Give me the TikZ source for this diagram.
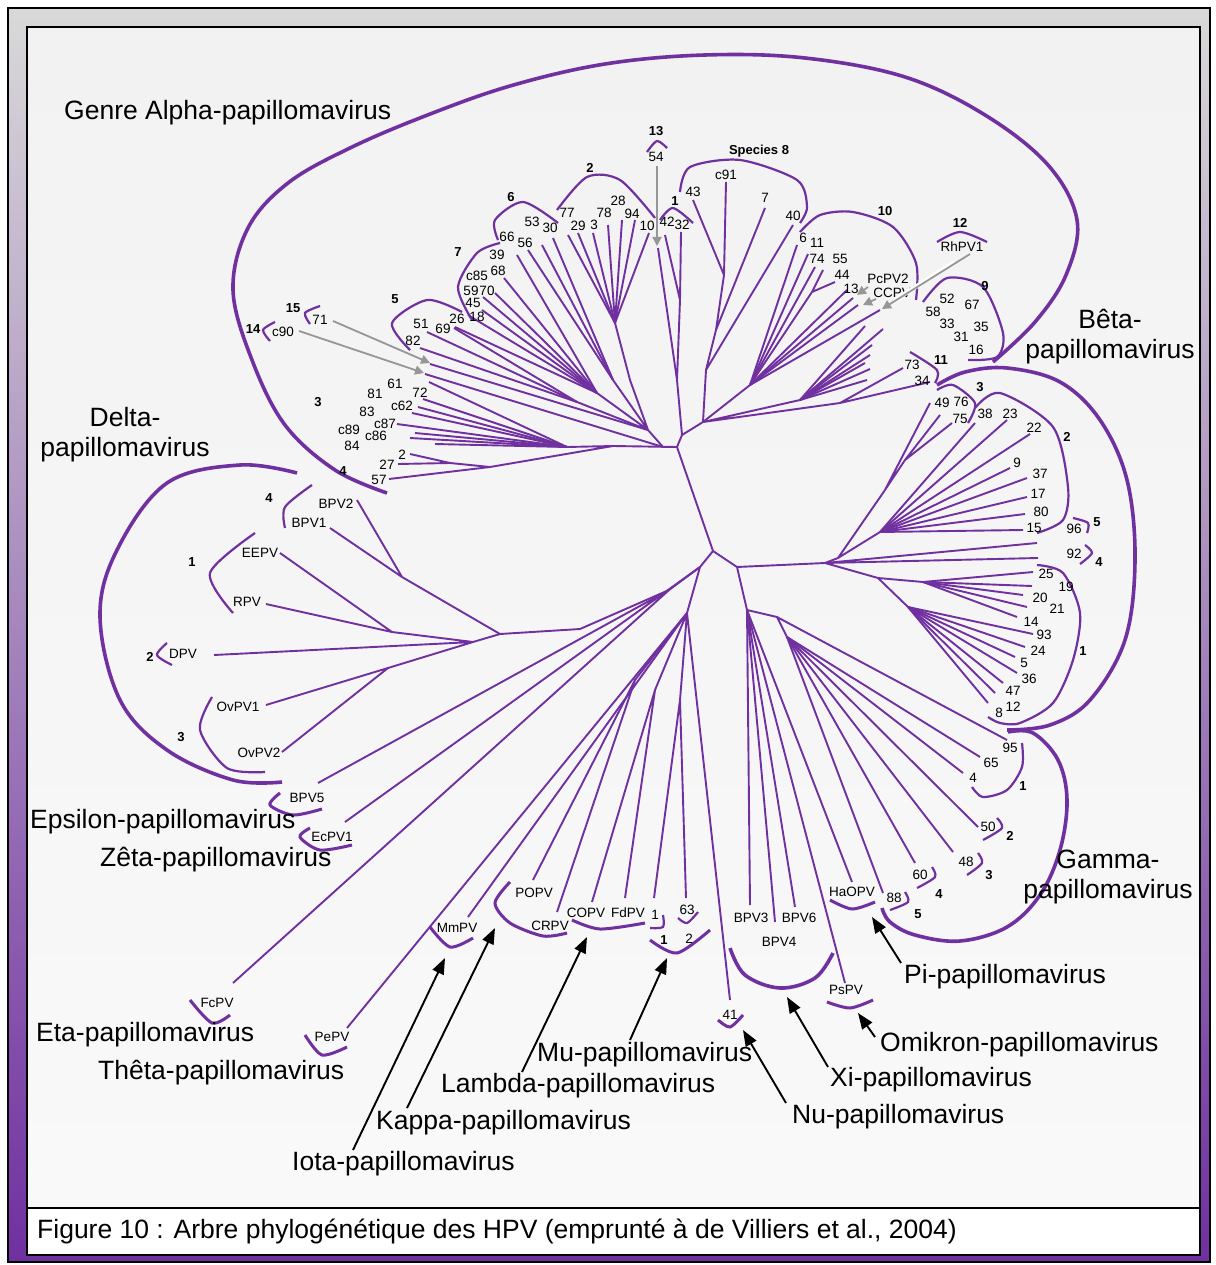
\documentclass[tikz,border=0pt]{standalone}
\usepackage{fontspec}
\setmainfont{Liberation Sans}
\usetikzlibrary{arrows.meta}
\definecolor{pv}{HTML}{7030A0}
\definecolor{gtop}{HTML}{D9D9D9}
\definecolor{gmid}{HTML}{B4A5C8}
\definecolor{panel}{HTML}{F2F2F2}
\definecolor{panelb}{HTML}{F9F9F9}
\definecolor{garrow}{HTML}{969696}
\begin{document}
\begin{tikzpicture}[x=1pt,y=-1pt,
  br/.style={pv,line width=1.9pt},
  brc/.style={pv,line width=2.2pt},
  brb/.style={pv,line width=3pt},
  bigbrace/.style={pv,line width=3.6pt},
  lab/.style={font=\fontsize{13.5}{15}\selectfont,inner sep=0pt},
  sp/.style={font=\fontsize{13}{15}\selectfont\bfseries,inner sep=0pt},
  big/.style={font=\fontsize{26.5}{30}\selectfont,inner sep=0pt,align=center},
  garr/.style={garrow,line width=1.8pt,-{Triangle[length=9pt,width=9pt]}},
  barr/.style={black,line width=1.9pt,-{Triangle[length=16pt,width=12pt]}}]
\useasboundingbox (0,0) rectangle (1215,1265);
% frame
\fill[white] (0,0) rectangle (1215,1265);
\shade[top color=gtop,middle color=gmid,bottom color=pv] (8,8) rectangle (1210,1262);
\draw[line width=1.5pt] (8,8) rectangle (1210,1262);
\shade[top color=panel,bottom color=panelb] (27,27) rectangle (1200,1208);
\draw[line width=2pt] (27,27) rectangle (1200,1208);
\filldraw[fill=white,line width=2pt] (27,1208) rectangle (1200,1255);
\node[big,anchor=west] (cap) at (37,1231) {Figure 10 : Arbre phylogénétique des HPV (emprunté à de Villiers et al., 2004)};

% ---------- internal coordinates ----------
\coordinate (A) at (677,447); \coordinate (B) at (713,551);
\coordinate (C) at (737,567); \coordinate (D) at (700,567);
\coordinate (D2) at (669,590); \coordinate (D3) at (687,613);
\coordinate (AL1) at (613,446); \coordinate (H3) at (567,447);
\coordinate (H4) at (490,467); \coordinate (H4b) at (450,463);
\coordinate (AL2) at (663,447); \coordinate (AL3) at (648,430);
\coordinate (S5) at (577,402); \coordinate (S7) at (597,393);
\coordinate (S6) at (613,380); \coordinate (S2) at (615,323);
\coordinate (S2b) at (630,380); \coordinate (AL5) at (682,435);
\coordinate (S1) at (677,380); \coordinate (S1b) at (680,300);
\coordinate (AL6) at (703,422); \coordinate (S8a) at (724,275);
\coordinate (S8c) at (716,330); \coordinate (S8d) at (706,370);
\coordinate (S10) at (750,385); \coordinate (S10a) at (812,292);
\coordinate (S9) at (800,400); \coordinate (S11) at (840,403);
\coordinate (BH) at (825,563); \coordinate (B23) at (838,558);
\coordinate (B3n) at (885,490); \coordinate (B3) at (905,460);
\coordinate (B2) at (880,532); \coordinate (B1) at (878,578);
\coordinate (B1a) at (923,582); \coordinate (B1b) at (908,607);
\coordinate (G0) at (747,610); \coordinate (G1) at (777,617);
\coordinate (G2) at (787,637);
\coordinate (E3) at (500,634); \coordinate (E4) at (580,629);
\coordinate (BPn) at (402,577); \coordinate (E1) at (392,632);
\coordinate (E2) at (473,642); \coordinate (OVn) at (388,668);
\coordinate (K) at (635,680); \coordinate (L) at (655,690); \coordinate (M) at (680,700);

% ---------- tree ----------
\draw[br] (A)--(B) (B)--(C) (B)--(D) (D)--(D2) (D)--(D3);
% alpha
\draw[br] (A)--(AL1)--(H3) (AL1)--(H4)--(H4b);
\foreach \p in {(429,382),(423,399),(418,407),(412,413),(397,424),(415,433),(410,438),(435,444)} \draw[br] (H3)--\p;
\draw[br] (H4b)--(410,454) (H4b)--(398,464) (H4)--(389,479);
\draw[br] (A)--(AL2)--(AL3) (AL2)--(425,374) (AL3)--(430,364);
\draw[br] (AL3)--(S5) (AL3)--(S7) (AL3)--(S6) (AL3)--(S2b)--(S2);
\foreach \p in {(427,332),(420,348),(454,328)} \draw[br] (S5)--\p;
\foreach \p in {(517,255),(504,278),(495,293),(483,297),(482,310),(468,315),(455,327)} \draw[br] (S7)--\p;
\foreach \p in {(528,250),(542,245),(553,238)} \draw[br] (S6)--\p;
\foreach \p in {(568,235),(578,233),(593,233),(608,225),(622,220),(635,220),(649,233)} \draw[br] (S2)--\p;
\draw[br] (A)--(AL5)--(S1)--(658,248) (S1)--(S1b)--(665,235) (S1b)--(681,232);
\draw[br] (AL5)--(AL6)--(S8d)--(S8c)--(S8a)--(693,200) (S8a)--(726,182) (S8c)--(765,208) (S8d)--(793,225);
\draw[br] (AL6)--(S10);
\foreach \p in {(797,245),(808,254),(815,267),(847,290),(853,298),(858,305),(880,310)} \draw[br] (S10)--\p;
\draw[br] (S10)--(S10a)--(823,270) (S10a)--(835,282);
\draw[br] (AL6)--(S9) (AL6)--(S11);
\foreach \p in {(865,326),(883,329),(872,345),(870,355),(865,363),(870,369),(867,380)} \draw[br] (S9)--\p;
\draw[br] (S11)--(903,368) (S11)--(930,382);
% beta
\draw[br] (C)--(BH)--(B23)--(B3n)--(930,403) (B3n)--(B3)--(940,415) (B3)--(952,423) (B23)--(B2);
\foreach \p in {(975,423),(1007,420),(1030,434),(1010,468),(1027,478),(1027,497),(1025,514),(1023,530)} \draw[br] (B2)--\p;
\draw[br] (BH)--(1037,543) (BH)--(1038,558) (BH)--(B1)--(B1a) (B1)--(B1b);
\foreach \p in {(1033,572),(1032,586),(1023,595),(1027,607),(1017,617)} \draw[br] (B1a)--\p;
\foreach \p in {(1033,634),(1025,647),(1015,657),(1017,673),(1003,683),(995,693),(988,703)} \draw[br] (B1b)--\p;
% gamma, pi, omikron, xi
\draw[br] (C)--(G0)--(G1)--(G2) (G1)--(1007,740);
\foreach \p in {(980,757),(963,773),(978,827),(953,852),(915,863),(883,893)} \draw[br] (G2)--\p;
\foreach \p in {(852,882),(845,983),(750,905),(775,922),(795,907)} \draw[br] (G0)--\p;
% delta and lower
\draw[br] (D2)--(E4)--(E3)--(BPn)--(357,500) (BPn)--(330,528);
\draw[br] (E3)--(E2)--(E1)--(280,553) (E1)--(266,604) (E2)--(214,655) (E2)--(OVn)--(266,705) (OVn)--(282,752);
\draw[br] (D2)--(318,783) (D)--(345,822) (D2)--(233,983) (D3)--(347,1028) (D3)--(468,917);
\draw[br] (D3)--(K)--(533,880) (K)--(557,912) (D3)--(L)--(592,902) (L)--(625,898) (D3)--(M)--(654,898) (M)--(686,898) (D3)--(730,1000);

% ---------- big braces ----------
\draw[bigbrace] plot[smooth,tension=0.6] coordinates {(387,493) (335,470) (285,425) (252,360) (233,290) (248,228) (288,183) (350,148) (425,116) (510,86) (605,64) (705,55) (805,58) (905,77) (985,115) (1048,165) (1077,220) (1066,275) (1035,322) (993,362)};
\draw[bigbrace] plot[smooth,tension=0.6] coordinates {(937,385) (965,372) (1007,368) (1060,382) (1100,420) (1127,480) (1135,560) (1125,640) (1090,700) (1050,725) (1007,730)};
\draw[bigbrace] plot[smooth,tension=0.6] coordinates {(1008,732) (1033,733) (1058,760) (1067,800) (1060,850) (1040,895) (1007,927) (960,941) (915,935) (890,922) (882,908)};
\draw[bigbrace] plot[smooth,tension=0.6] coordinates {(297,473) (240,465) (167,483) (117,550) (100,617) (120,700) (167,750) (233,780) (282,782)};
\draw[bigbrace] plot[smooth,tension=0.6] coordinates {(730,948) (745,975) (780,988) (815,978) (833,953)};
% ---------- small braces ----------
\draw[brc] plot[smooth] coordinates {(320,306) (305,313) (310,324)};
\draw[brc] plot[smooth] coordinates {(275,322) (263,330) (270,341)};
\draw[brc] plot[smooth] coordinates {(410,350) (392,323) (427,300) (462,312)};
\draw[brc] plot[smooth] coordinates {(472,320) (458,287) (477,253) (500,243)};
\draw[brc] plot[smooth] coordinates {(498,240) (495,220) (523,202) (558,223)};
\draw[brc] plot[smooth] coordinates {(557,210) (587,177) (620,180) (655,218)};
\draw[brc] plot[smooth] coordinates {(647,152) (657,141) (667,148)};
\draw[brc] plot[smooth] coordinates {(660,220) (673,208) (693,223)};
\draw[brc] plot[smooth] coordinates {(680,192) (690,167) (740,160) (797,180) (807,207) (800,223)};
\draw[brc] plot[smooth] coordinates {(800,232) (820,215) (853,212) (893,227) (916,263) (916,300)};
\draw[brc] plot[smooth] coordinates {(937,242) (960,232) (987,242)};
\draw[brc] plot[smooth] coordinates {(923,302) (947,278) (983,287) (1003,333) (997,357) (968,360)};
\draw[brc] plot[smooth] coordinates {(910,352) (937,370) (935,383)};
\draw[brc] plot[smooth] coordinates {(937,390) (953,385) (975,403) (968,423)};
\draw[brc] plot[smooth] coordinates {(975,408) (1000,393) (1053,427) (1068,487) (1063,520) (1037,533)};
\draw[brc] plot[smooth] coordinates {(1073,518) (1088,523) (1087,533)};
\draw[brc] plot[smooth] coordinates {(1085,545) (1092,553) (1080,564)};
\draw[brc] plot[smooth] coordinates {(1037,565) (1063,573) (1080,613) (1073,660) (1053,703) (1020,723) (1000,723) (988,717)};
\draw[brc] plot[smooth] coordinates {(1022,743) (1022,767) (1007,790) (983,797) (972,787)};
\draw[brc] plot[smooth] coordinates {(997,818) (1002,828) (983,840)};
\draw[brc] plot[smooth] coordinates {(978,853) (982,863) (967,875)};
\draw[brc] plot[smooth] coordinates {(932,867) (935,877) (917,888)};
\draw[brc] plot[smooth] coordinates {(905,892) (908,902) (890,910)};
\draw[brb] plot[smooth] coordinates {(830,900) (852,909) (875,902)};
\draw[brb] plot[smooth] coordinates {(430,927) (450,947) (473,938)};
\draw[brb] plot[smooth] coordinates {(510,882) (495,903) (510,923) (543,936) (567,933)};
\draw[brb] plot[smooth] coordinates {(572,920) (600,929) (645,923)};
\draw[brc] plot[smooth] coordinates {(663,915) (663,927) (650,928)};
\draw[brc] plot[smooth] coordinates {(678,918) (687,923) (698,912)};
\draw[brb] plot[smooth] coordinates {(650,940) (677,953) (710,930)};
\draw[brb] plot[smooth] coordinates {(718,1020) (730,1027) (743,1015)};
\draw[brb] plot[smooth] coordinates {(827,1002) (850,1008) (873,1000)};
\draw[brc] plot[smooth] coordinates {(312,485) (285,507) (285,528)};
\draw[brc] plot[smooth] coordinates {(255,533) (210,573) (233,613)};
\draw[brc] plot[smooth] coordinates {(167,643) (157,655) (172,665)};
\draw[brc] plot[smooth] coordinates {(212,697) (200,730) (227,768) (265,772)};
\draw[brb] plot[smooth] coordinates {(280,793) (270,805) (293,815) (322,809)};
\draw[brb] plot[smooth] coordinates {(310,828) (300,837) (320,850) (352,845)};
\draw[brb] plot[smooth] coordinates {(190,1000) (212,1023) (230,1015)};
\draw[brb] plot[smooth] coordinates {(305,1035) (322,1055) (347,1047)};

% ---------- small labels ----------
\node[sp] (s15) at (293,308) {15}; \node[lab] (l71) at (320,320) {71};
\node[sp] (s14) at (253,329) {14}; \node[lab] (lc90) at (283,332) {c90};
\node[sp] (s3a) at (318,402) {3};
\node[lab] (l61) at (395,384) {61}; \node[lab] (l81) at (375,394) {81};
\node[lab] (l72) at (420,393) {72}; \node[lab] (l83) at (367,412) {83};
\node[lab] (lc62) at (402,406) {c62}; \node[lab] (lc89) at (349,430) {c89};
\node[lab] (lc87) at (385,424) {c87}; \node[lab] (lc86) at (376,436) {c86};
\node[lab] (l84) at (352,446) {84};
\node[sp] (s4a) at (343,471) {4}; \node[lab] (l2) at (402,455) {2};
\node[lab] (l27) at (387,465) {27}; \node[lab] (l57) at (379,480) {57};
\node[sp] (s5a) at (395,299) {5}; \node[lab] (l51) at (421,324) {51};
\node[lab] (l69) at (443,329) {69}; \node[lab] (l82) at (413,341) {82};
\node[lab] (l26) at (457,319) {26}; \node[lab] (l18) at (477,317) {18};
\node[lab] (l45) at (473,303) {45}; \node[lab] (l59) at (471,291) {59};
\node[lab] (l70) at (487,291) {70}; \node[lab] (lc85) at (477,276) {c85};
\node[lab] (l68) at (498,271) {68}; \node[lab] (l39) at (497,255) {39};
\node[sp] (s7) at (458,252) {7};
\node[sp] (s6) at (511,197) {6}; \node[lab] (l66) at (507,237) {66};
\node[lab] (l53) at (532,222) {53}; \node[lab] (l30) at (550,228) {30};
\node[lab] (l56) at (525,243) {56};
\node[sp] (s2a) at (590,168) {2}; \node[lab] (l77) at (567,213) {77};
\node[lab] (l29) at (578,226) {29}; \node[lab] (l3) at (594,225) {3};
\node[lab] (l78) at (604,213) {78}; \node[lab] (l28) at (618,201) {28};
\node[lab] (l94) at (632,214) {94}; \node[lab] (l10) at (647,226) {10};
\node[sp] (s13) at (656,131) {13}; \node[lab] (l54) at (656,157) {54};
\node[sp] (s1a) at (675,201) {1}; \node[lab] (l42) at (667,222) {42};
\node[lab] (l32) at (682,225) {32};
\node[sp] (s8) at (759,151) {Species 8}; \node[lab] (l43) at (693,192) {43};
\node[lab] (lc91) at (726,175) {c91}; \node[lab] (l7) at (765,198) {7};
\node[lab] (l40) at (793,216) {40};
\node[sp] (s10) at (885,211) {10}; \node[lab] (l6) at (803,238) {6};
\node[lab] (l11) at (817,243) {11}; \node[lab] (l74) at (817,259) {74};
\node[lab] (l55) at (840,259) {55}; \node[lab] (l44) at (842,275) {44};
\node[lab] (l13) at (851,289) {13}; \node[lab] (lPcPV2) at (888,279) {PcPV2};
\node[lab] (lCCPV) at (892,293) {CCPV};
\node[sp] (s12) at (960,223) {12}; \node[lab] (lRhPV1) at (962,247) {RhPV1};
\node[sp] (s9) at (985,286) {9}; \node[lab] (l52) at (947,299) {52};
\node[lab] (l67) at (972,305) {67}; \node[lab] (l58) at (933,312) {58};
\node[lab] (l33) at (947,324) {33}; \node[lab] (l35) at (981,327) {35};
\node[lab] (l31) at (961,337) {31}; \node[lab] (l16) at (976,350) {16};
\node[sp] (s11) at (941,360) {11}; \node[lab] (l73) at (912,365) {73};
\node[lab] (l34) at (922,381) {34};
% beta
\node[sp] (s3b) at (980,387) {3}; \node[lab] (l49) at (942,403) {49};
\node[lab] (l76) at (961,402) {76}; \node[lab] (l75) at (960,419) {75};
\node[lab] (l38) at (985,414) {38}; \node[lab] (l23) at (1010,414) {23};
\node[lab] (l22) at (1034,428) {22}; \node[sp] (s2b) at (1067,437) {2};
\node[lab] (l9) at (1017,463) {9}; \node[lab] (l37) at (1040,474) {37};
\node[lab] (l17) at (1038,494) {17}; \node[lab] (l80) at (1041,512) {80};
\node[lab] (l15) at (1034,528) {15}; \node[lab] (l96) at (1074,529) {96};
\node[sp] (s5b) at (1097,522) {5}; \node[lab] (l92) at (1074,554) {92};
\node[sp] (s4b) at (1099,562) {4}; \node[lab] (l25) at (1046,574) {25};
\node[lab] (l19) at (1066,587) {19}; \node[lab] (l20) at (1040,598) {20};
\node[lab] (l21) at (1057,609) {21}; \node[lab] (l14) at (1031,622) {14};
\node[lab] (l93) at (1044,635) {93}; \node[lab] (l24) at (1038,651) {24};
\node[sp] (s1b) at (1083,651) {1}; \node[lab] (l5) at (1024,663) {5};
\node[lab] (l36) at (1029,679) {36}; \node[lab] (l47) at (1013,691) {47};
\node[lab] (l12) at (1013,707) {12}; \node[lab] (l8) at (999,713) {8};
% gamma
\node[lab] (l95) at (1010,748) {95}; \node[lab] (l65) at (991,763) {65};
\node[lab] (l4) at (973,778) {4}; \node[sp] (s1g) at (1023,786) {1};
\node[lab] (l50) at (988,827) {50}; \node[sp] (s2g) at (1010,836) {2};
\node[lab] (l48) at (966,862) {48}; \node[sp] (s3g) at (989,875) {3};
\node[lab] (l60) at (920,875) {60}; \node[sp] (s4g) at (939,894) {4};
\node[lab] (l88) at (894,898) {88}; \node[sp] (s5g) at (918,914) {5};
\node[lab] (lHaOPV) at (852,892) {HaOPV};
% bottom
\node[lab] (lMmPV) at (457,928) {MmPV}; \node[lab] (lPOPV) at (534,893) {POPV};
\node[lab] (lCRPV) at (550,926) {CRPV}; \node[lab] (lCOPV) at (586,913) {COPV};
\node[lab] (lFdPV) at (628,913) {FdPV}; \node[lab] (lh1) at (655,915) {1};
\node[lab] (l63) at (687,910) {63}; \node[sp] (s1m) at (664,940) {1};
\node[lab] (l2m) at (689,939) {2};
\node[lab] (lBPV3) at (751,918) {BPV3}; \node[lab] (lBPV6) at (799,918) {BPV6};
\node[lab] (lBPV4) at (779,942) {BPV4}; \node[lab] (lPsPV) at (846,990) {PsPV};
\node[lab] (l41) at (730,1015) {41};
% delta etc
\node[sp] (s4d) at (269,498) {4}; \node[lab] (lBPV2) at (336,504) {BPV2};
\node[lab] (lBPV1) at (309,523) {BPV1}; \node[sp] (s1d) at (192,562) {1};
\node[lab] (lEEPV) at (260,553) {EEPV}; \node[lab] (lRPV) at (247,602) {RPV};
\node[sp] (s2d) at (150,657) {2}; \node[lab] (lDPV) at (183,654) {DPV};
\node[lab] (lOvPV1) at (238,707) {OvPV1}; \node[sp] (s3d) at (181,737) {3};
\node[lab] (lOvPV2) at (259,753) {OvPV2}; \node[lab] (lBPV5) at (307,798) {BPV5};
\node[lab] (lEcPV1) at (332,837) {EcPV1}; \node[lab] (lFcPV) at (217,1003) {FcPV};
\node[lab] (lPePV) at (332,1037) {PePV};

% ---------- genus labels ----------
\node[big,anchor=west] (gAlpha) at (64,113) {Genre Alpha-papillomavirus};
\node[big] (gBeta) at (1110,337) {Bêta-\\papillomavirus};
\node[big] (gDelta) at (125,435) {Delta-\\papillomavirus};
\node[big] (gGamma) at (1108,877) {Gamma-\\papillomavirus};
\node[big,anchor=west] (gEps) at (30,822) {Epsilon-papillomavirus};
\node[big,anchor=west] (gZeta) at (100,860) {Zêta-papillomavirus};
\node[big,anchor=west] (gEta) at (36,1035) {Eta-papillomavirus};
\node[big,anchor=west] (gTheta) at (98,1073) {Thêta-papillomavirus};
\node[big,anchor=west] (gIota) at (292,1164) {Iota-papillomavirus};
\node[big,anchor=west] (gKappa) at (376,1123) {Kappa-papillomavirus};
\node[big,anchor=west] (gLambda) at (441,1086) {Lambda-papillomavirus};
\node[big,anchor=west] (gMu) at (537,1055) {Mu-papillomavirus};
\node[big,anchor=west] (gNu) at (792,1117) {Nu-papillomavirus};
\node[big,anchor=west] (gXi) at (830,1080) {Xi-papillomavirus};
\node[big,anchor=west] (gOmi) at (880,1045) {Omikron-papillomavirus};
\node[big,anchor=west] (gPi) at (904,977) {Pi-papillomavirus};

% ---------- grey arrows ----------
\coordinate (t71) at (430,363); \coordinate (tc90) at (424,373);
\coordinate (t54) at (657,246); \coordinate (tPc) at (857,295);
\coordinate (tCC) at (863,305); \coordinate (tRh) at (882,309);
\draw[garr] (333,321) -- (t71);
\draw[garr] (299,331) -- (tc90);
\draw[garr] (657,166) -- (t54);
\draw[garr] (868,287) -- (tPc);
\draw[garr] (876,299) -- (tCC);
\draw[white,line width=4.5pt] (955,262) -- (895,300);
\draw[garr] (970,254) -- (tRh);

% ---------- black arrows ----------
\coordinate (tIota) at (445,958); \coordinate (tKappa) at (495,928);
\coordinate (tLambda) at (587,937); \coordinate (tMu) at (667,958);
\coordinate (tNu) at (743,1030); \coordinate (tXi) at (787,997);
\coordinate (tOmi) at (858,1013); \coordinate (tPi) at (872,917);
\draw[barr] (353,1150) -- (tIota);
\draw[barr] (407,1108) -- (tKappa);
\draw[barr] (522,1072) -- (tLambda);
\draw[barr] (630,1040) -- (tMu);
\draw[barr] (786,1103) -- (tNu);
\draw[barr] (828,1067) -- (tXi);
\draw[barr] (875,1037) -- (tOmi);
\draw[barr] (901,963) -- (tPi);
\end{tikzpicture}
\end{document}
